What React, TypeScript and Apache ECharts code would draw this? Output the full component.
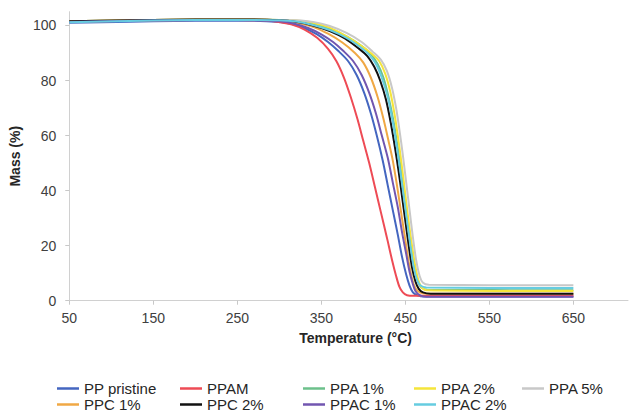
import React, { useEffect, useRef } from "react";
import * as echarts from "echarts";

const seriesNames = [
  "PP pristine",
  "PPAM",
  "PPA 1%",
  "PPA 2%",
  "PPA 5%",
  "PPC 1%",
  "PPC 2%",
  "PPAC 1%",
  "PPAC 2%",
];

const ppPristine = [[50,101],[150,101.5],[250,101.8],[300,101.3],[315,100.5],[330,99],[345,96.8],[358,94],[370,90.8],[382,87],[392,82],[401,75.5],[409,68],[416,60],[423,51],[429,42],[435,33],[441,24],[446,16],[451,9.5],[455,5.5],[459,3],[464,2],[472,1.5],[650,1.5]];
const ppam = [[50,101.3],[150,101.8],[250,102],[285,101.8],[300,101.2],[315,100.3],[330,98.5],[345,95.5],[358,91.5],[368,87],[377,81],[385,74],[393,66],[400,58],[407,50],[414,41],[421,32],[428,23],[434,15],[439,9],[443,5],[447,3],[452,2],[460,1.8],[650,1.8]];
const ppa1 = [[50,101.5],[150,102],[250,102.2],[300,102],[320,101.6],[340,100.6],[360,98.8],[380,96],[398,92.5],[409,89.6],[417,86],[424,81],[430,74],[436,65],[441,55.5],[445,47],[449,38],[453,29],[457,20],[461,12],[465,7],[469,4.8],[476,4],[650,3.8]];
const ppa2 = [[50,101.5],[150,102],[250,102.2],[300,102],[320,101.8],[340,101],[360,99.2],[380,96],[398,92.5],[410,89.7],[419,87],[426,82.5],[432,76],[437,68],[441,60],[445,51],[449,41],[453,31],[457,22],[461,14],[465,8],[469,5],[475,3.8],[650,3.5]];
const ppa5 = [[50,101.5],[150,102],[250,102.2],[300,102],[320,101.9],[340,101.3],[360,99.8],[380,97.3],[398,94],[411,90.5],[421,87.5],[428,83.5],[434,77.5],[439,70],[443,62],[447,53],[451,43],[455,33],[459,23],[463,14.5],[467,9],[471,6.5],[478,5.8],[650,5.6]];
const ppc1 = [[50,101.5],[150,102],[250,102.2],[300,101.8],[320,101],[340,99.5],[358,97],[375,93.8],[390,90],[400,86.5],[409,81],[417,74],[424,66],[430,58],[435,51],[440,42],[445,32],[450,22],[454,14],[458,8],[462,4.5],[467,3],[475,2.5],[650,2.5]];
const ppc2 = [[50,101.5],[150,102],[250,102.2],[300,101.9],[320,101.3],[340,100],[360,98],[378,95.3],[395,91.5],[405,88.8],[413,85],[420,80],[427,73],[433,64],[438,55],[442,47],[446,38],[450,29],[454,20],[458,12],[462,7],[466,4.3],[471,3],[480,2.5],[650,2.5]];
const ppac1 = [[50,101.3],[150,101.8],[250,102],[300,101.5],[318,100.6],[335,99],[350,96.8],[364,94],[376,90.8],[388,87],[398,82],[407,75.5],[415,68],[422,60],[429,52],[435,43],[441,34],[446,25],[451,17],[455,10.5],[459,6],[462,3.5],[467,2],[475,1.4],[650,1.4]];
const ppac2 = [[50,101.2],[150,101.8],[250,102],[300,101.9],[320,101.4],[340,100.2],[360,98.3],[380,95.5],[397,92],[407,89.3],[415,86],[422,81],[429,74],[435,65],[440,55.5],[444,47],[448,38],[452,29],[456,20],[460,12],[464,7.5],[468,5.5],[475,4.8],[650,4.6]];

const seriesData = [ppPristine, ppam, ppa1, ppa2, ppa5, ppc1, ppc2, ppac1, ppac2];
const seriesColors = ["#4466c0", "#ee4b55", "#6cc08b", "#f5e53a", "#c8c8c8", "#f0a845", "#111111", "#7256b0", "#66cce0"];

const xTickLabels = [50, 150, 250, 350, 450, 550, 650];
const yTickLabels = [0, 20, 40, 60, 80, 100];

const legendPos = [
  [57, 381], [180, 381], [303, 381], [414, 381], [522, 381],
  [57, 397], [180, 397], [303, 397], [414, 397],
];

export default function App() {
  const ref = useRef<HTMLDivElement>(null);
  useEffect(() => {
    if (!ref.current) return;
    const chart = echarts.init(ref.current, undefined, { renderer: "svg" });
    const font = "'Liberation Sans', Arial, sans-serif";
    chart.setOption({
      animation: false,
      textStyle: { fontFamily: font },
      grid: { left: 69, right: 1, top: 11.7, bottom: 114.3, containLabel: false },
      xAxis: {
        type: "value",
        min: 50,
        max: 715,
        name: "Temperature (°C)",
        nameLocation: "middle",
        nameGap: 30,
        nameTextStyle: { fontSize: 14, fontWeight: "bold", color: "#262626", fontFamily: font, padding: [0, 0, 0, 14] },
        splitLine: { show: false },
        axisLine: { show: true, lineStyle: { color: "#d0d0d0", width: 1 } },
        axisTick: { show: true, length: 4, lineStyle: { color: "#c8c8c8" }, customValues: xTickLabels },
        axisLabel: { fontSize: 14, color: "#404040", margin: 10, customValues: xTickLabels, fontFamily: font },
      },
      yAxis: {
        type: "value",
        min: 0,
        max: 105,
        name: "Mass (%)",
        nameLocation: "middle",
        nameGap: 45,
        nameTextStyle: { fontSize: 14, fontWeight: "bold", color: "#262626", fontFamily: font },
        splitLine: { show: false },
        axisLine: { show: true, lineStyle: { color: "#d0d0d0", width: 1 } },
        axisTick: { show: true, length: 4, lineStyle: { color: "#c8c8c8" }, customValues: yTickLabels },
        axisLabel: { fontSize: 14, color: "#404040", margin: 13, customValues: yTickLabels, fontFamily: font },
      },
      legend: seriesNames.map((n, i) => ({
        data: [n],
        left: legendPos[i][0],
        top: legendPos[i][1],
        icon: "rect",
        itemWidth: 22,
        itemHeight: 2.5,
        selectedMode: false,
        padding: 0,
        textStyle: { fontSize: 15, color: "#262626", fontFamily: font },
      })),
      series: seriesNames.map((n, i) => ({
        name: n,
        type: "line",
        data: seriesData[i],
        showSymbol: false,
        symbol: "none",
        smooth: 0.3,
        color: seriesColors[i],
        lineStyle: { width: 2, color: seriesColors[i] },
      })),
    });
    return () => chart.dispose();
  }, []);
  return <div ref={ref} style={{ width: 629, height: 415, position: "absolute", left: 0, top: 0 }} />;
}
